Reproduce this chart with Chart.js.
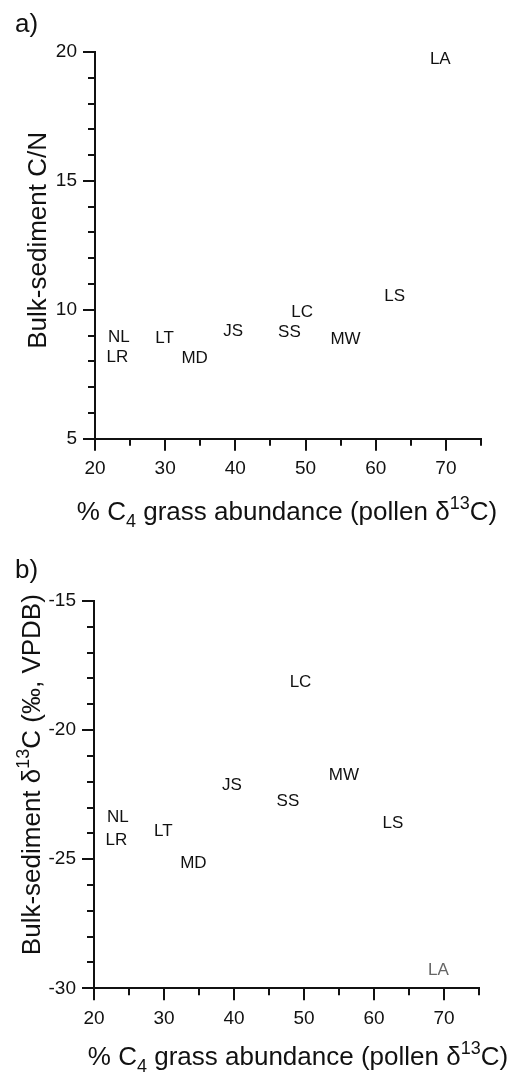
<!DOCTYPE html>
<html>
<head>
<meta charset="utf-8">
<script src="https://cdn.jsdelivr.net/npm/chart.js@4.4.1/dist/chart.umd.min.js"></script>
<style>
  body { margin: 0; background: #fff; }
  #wrap { position: relative; width: 511px; height: 1075px; }
  canvas { position: absolute; left: 0; display: block; }
</style>
</head>
<body>
<div id="wrap">
  <canvas id="chart-a" width="511" height="548" style="top:0"></canvas>
  <canvas id="chart-b" width="511" height="527" style="top:548px"></canvas>
</div>
<script>
// Site codes and values
const sites = ['NL', 'LR', 'LT', 'MD', 'JS', 'SS', 'LC', 'MW', 'LS', 'LA'];
const c4Grass = [23.4, 23.2, 29.9, 34.2, 39.7, 47.7, 49.5, 55.7, 62.7, 69.2];
const bulkCN = [8.94, 8.16, 8.90, 8.13, 9.16, 9.13, 9.90, 8.86, 10.53, 19.73];
const bulkD13C = [-23.39, -24.25, -23.92, -25.17, -22.14, -22.74, -18.13, -21.75, -23.6, -29.29];

// Labelled ticks
const c4TickLabels = [20, 30, 40, 50, 60, 70];
const cnTickLabels = [5, 10, 15, 20];
const d13cTickLabels = [-30, -25, -20, -15];

const FONT = '"Liberation Sans", Arial, Helvetica, sans-serif';
const INK = '#111';

// draw a line of text with sub/superscript parts, centred on (0,0)
function drawRich(ctx, parts, size) {
    const small = Math.round(size * 0.68);
    let total = 0;
    parts.forEach(p => {
        ctx.font = (p.sub || p.sup ? small : size) + 'px ' + FONT;
        p.w = ctx.measureText(p.t).width;
        total += p.w;
    });
    let x = -total / 2;
    ctx.textAlign = 'left';
    ctx.textBaseline = 'alphabetic';
    parts.forEach(p => {
        ctx.font = (p.sub || p.sup ? small : size) + 'px ' + FONT;
        let dy = size * 0.36;
        if (p.sub) dy += size * 0.28;
        if (p.sup) dy -= size * 0.42;
        ctx.fillText(p.t, x, dy);
        x += p.w;
    });
}

const xTitle = [{t: '% C'}, {t: '4', sub: true}, {t: ' grass abundance (pollen \u03B4'}, {t: '13', sup: true}, {t: 'C)'}];

// tick marks (long at labelled values, short between), site labels, titles
const decorPlugin = {
    id: 'decor',
    afterDraw(chart, args, opts) {
        const ctx = chart.ctx;
        const xs = chart.scales.x, ys = chart.scales.y;
        const area = chart.chartArea;
        ctx.save();
        ctx.strokeStyle = INK;
        ctx.lineWidth = 2;
        ctx.beginPath();
        xs.ticks.forEach(t => {
            const px = Math.round(xs.getPixelForValue(t.value));
            const len = c4TickLabels.includes(t.value) ? 12 : 7;
            ctx.moveTo(px, area.bottom);
            ctx.lineTo(px, area.bottom + len);
        });
        ys.ticks.forEach(t => {
            const py = Math.round(ys.getPixelForValue(t.value));
            const len = opts.yLabels.includes(t.value) ? 12 : 7;
            ctx.moveTo(area.left, py);
            ctx.lineTo(area.left - len, py);
        });
        ctx.stroke();

        // site labels at the data points
        const meta = chart.getDatasetMeta(0);
        const ds = chart.data.datasets[0];
        ctx.font = '17px ' + FONT;
        ctx.textAlign = 'center';
        ctx.textBaseline = 'middle';
        meta.data.forEach((pt, i) => {
            ctx.fillStyle = ds.labelColors ? ds.labelColors[i] : INK;
            ctx.fillText(sites[i], pt.x, pt.y);
        });

        ctx.fillStyle = INK;
        // panel letter
        ctx.font = '26px ' + FONT;
        ctx.textAlign = 'left';
        ctx.textBaseline = 'alphabetic';
        ctx.fillText(opts.letter, 15, opts.letterY);

        // x title
        ctx.save();
        ctx.translate(opts.xTitleX, area.bottom + opts.xTitleDy);
        drawRich(ctx, xTitle, 26);
        ctx.restore();

        // y title
        ctx.save();
        ctx.translate(opts.yTitleX, (area.top + area.bottom) / 2 + opts.yTitleDy);
        ctx.rotate(-Math.PI / 2);
        drawRich(ctx, opts.yTitle, 26);
        ctx.restore();
        ctx.restore();
    }
};

function makeChart(id, yValues, yMin, yMax, yLabels, pad, yWidth, xHeight, colors, decor) {
    return new Chart(document.getElementById(id), {
        type: 'scatter',
        data: {
            datasets: [{
                data: c4Grass.map((v, i) => ({x: v, y: yValues[i]})),
                pointRadius: 0,
                pointHoverRadius: 0,
                labelColors: colors
            }]
        },
        options: {
            responsive: false,
            animation: false,
            events: [],
            layout: { padding: pad },
            plugins: { legend: { display: false }, tooltip: { enabled: false }, decor: decor },
            scales: {
                x: {
                    type: 'linear', min: 20, max: 75,
                    afterFit: s => { s.height = xHeight; },
                    grid: { display: false, drawTicks: true, tickLength: 12 },
                    border: { display: true, color: INK, width: 2 },
                    ticks: {
                        stepSize: 5, autoSkip: false, maxRotation: 0, padding: 7,
                        color: INK, font: { family: FONT, size: 19 },
                        callback: v => c4TickLabels.includes(v) ? String(v) : ''
                    }
                },
                y: {
                    type: 'linear', min: yMin, max: yMax,
                    afterFit: s => { s.width = yWidth; },
                    grid: { display: false, drawTicks: true, tickLength: 12 },
                    border: { display: true, color: INK, width: 2 },
                    ticks: {
                        stepSize: 1, autoSkip: false, padding: 6,
                        color: INK, font: { family: FONT, size: 19 },
                        callback: v => yLabels.includes(v) ? String(v) : ''
                    }
                }
            }
        },
        plugins: [decorPlugin]
    });
}

makeChart('chart-a', bulkCN, 5, 20, cnTickLabels,
    { left: 0, right: 30, top: 52, bottom: 0 }, 95, 109.3, null,
    {
        letter: 'a)', letterY: 32, yLabels: cnTickLabels,
        xTitleX: 287, xTitleDy: 72, yTitleX: 37, yTitleDy: -5,
        yTitle: [{t: 'Bulk-sediment C/N'}]
    });

makeChart('chart-b', bulkD13C, -30, -15, d13cTickLabels,
    { left: 0, right: 32, top: 53, bottom: 0 }, 94, 86.7,
    ['#111', '#111', '#111', '#111', '#111', '#111', '#111', '#111', '#111', '#666'],
    {
        letter: 'b)', letterY: 30, yLabels: d13cTickLabels,
        xTitleX: 298, xTitleDy: 67, yTitleX: 31, yTitleDy: -20,
        yTitle: [{t: 'Bulk-sediment \u03B4'}, {t: '13', sup: true}, {t: 'C (\u2030, VPDB)'}]
    });
</script>
</body>
</html>
